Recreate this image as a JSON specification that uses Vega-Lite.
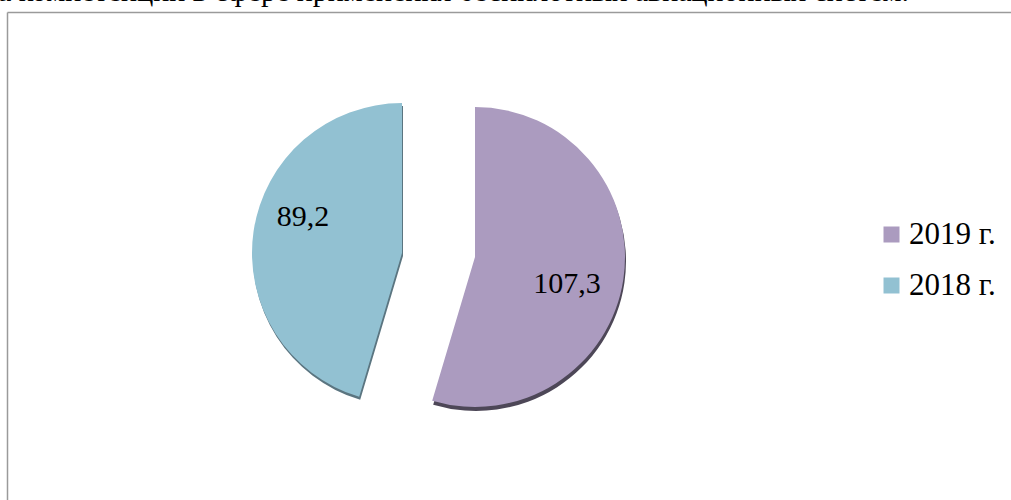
{
  "$schema": "https://vega.github.io/schema/vega-lite/v6.json",
  "width": 1004,
  "height": 488,
  "autosize": {"type": "none"},
  "padding": {"left": 7, "top": 12, "right": 0, "bottom": 0},
  "background": "white",
  "title": {
    "text": "а компетенции в сфере применения беспилотных авиационных систем.",
    "font": "Liberation Serif",
    "fontSize": 30,
    "fontWeight": "normal",
    "color": "black",
    "anchor": "start",
    "frame": "group",
    "baseline": "alphabetic",
    "offset": -22,
    "dx": -9
  },
  "config": {
    "locale": {"number": {"decimal": ",", "thousands": " ", "grouping": [3], "currency": ["", " ₽"]}},
    "view": {"stroke": null},
    "axis": {
      "domainColor": "#9a9a9a",
      "domainWidth": 1.5,
      "ticks": false,
      "labels": false,
      "grid": false,
      "title": null
    },
    "legend": {
      "orient": "none",
      "legendX": 869,
      "legendY": 207,
      "padding": 0,
      "symbolType": "square",
      "symbolSize": 256,
      "symbolStrokeWidth": 0,
      "labelFont": "Liberation Serif",
      "labelFontSize": 31,
      "labelColor": "black",
      "labelOffset": 2,
      "rowPadding": 19,
      "title": null
    }
  },
  "data": {
    "values": [
      {"year": "2019 г.", "value": 107.3},
      {"year": "2018 г.", "value": 89.2}
    ]
  },
  "layer": [
    {
      "mark": {"type": "point", "opacity": 0},
      "encoding": {
        "x": {"datum": 0, "type": "quantitative", "axis": {"orient": "top"}},
        "y": {"datum": 0, "type": "quantitative", "axis": {"orient": "left"}}
      }
    },
    {
      "encoding": {
        "theta": {"field": "value", "type": "quantitative", "stack": true},
        "order": {"field": "year", "sort": "descending"}
      },
      "layer": [
        {
          "mark": {"type": "arc", "radius": 150, "xOffset": -106, "yOffset": 0},
          "encoding": {
            "color": {"value": "#5b7580"},
            "opacity": {"condition": {"test": "datum.year === '2018 г.'", "value": 1}, "value": 0}
          }
        },
        {
          "mark": {"type": "arc", "radius": 150, "xOffset": -33, "yOffset": 5},
          "encoding": {
            "color": {"value": "#4d4757"},
            "opacity": {"condition": {"test": "datum.year === '2019 г.'", "value": 1}, "value": 0}
          }
        },
        {
          "mark": {"type": "arc", "radius": 150, "xOffset": -107, "yOffset": -3},
          "encoding": {
            "color": {
              "field": "year",
              "type": "nominal",
              "scale": {"domain": ["2019 г.", "2018 г."], "range": ["#AB9BBF", "#92C1D2"]}
            },
            "opacity": {"condition": {"test": "datum.year === '2018 г.'", "value": 1}, "value": 0}
          }
        },
        {
          "mark": {"type": "arc", "radius": 150, "xOffset": -34, "yOffset": 1},
          "encoding": {
            "color": {"field": "year", "type": "nominal"},
            "opacity": {"condition": {"test": "datum.year === '2019 г.'", "value": 1}, "value": 0}
          }
        },
        {
          "mark": {"type": "text", "radius": 102, "xOffset": -107, "yOffset": -3, "dx": 2, "dy": -21, "font": "Liberation Serif", "fontSize": 30, "color": "black"},
          "encoding": {
            "text": {"condition": {"test": "datum.year === '2018 г.'", "field": "value", "type": "quantitative", "format": ".1f"}, "value": ""}
          }
        },
        {
          "mark": {"type": "text", "radius": 96, "xOffset": -34, "yOffset": 1, "dx": -3, "dy": 13, "font": "Liberation Serif", "fontSize": 30, "color": "black"},
          "encoding": {
            "text": {"condition": {"test": "datum.year === '2019 г.'", "field": "value", "type": "quantitative", "format": ".1f"}, "value": ""}
          }
        }
      ]
    }
  ]
}
